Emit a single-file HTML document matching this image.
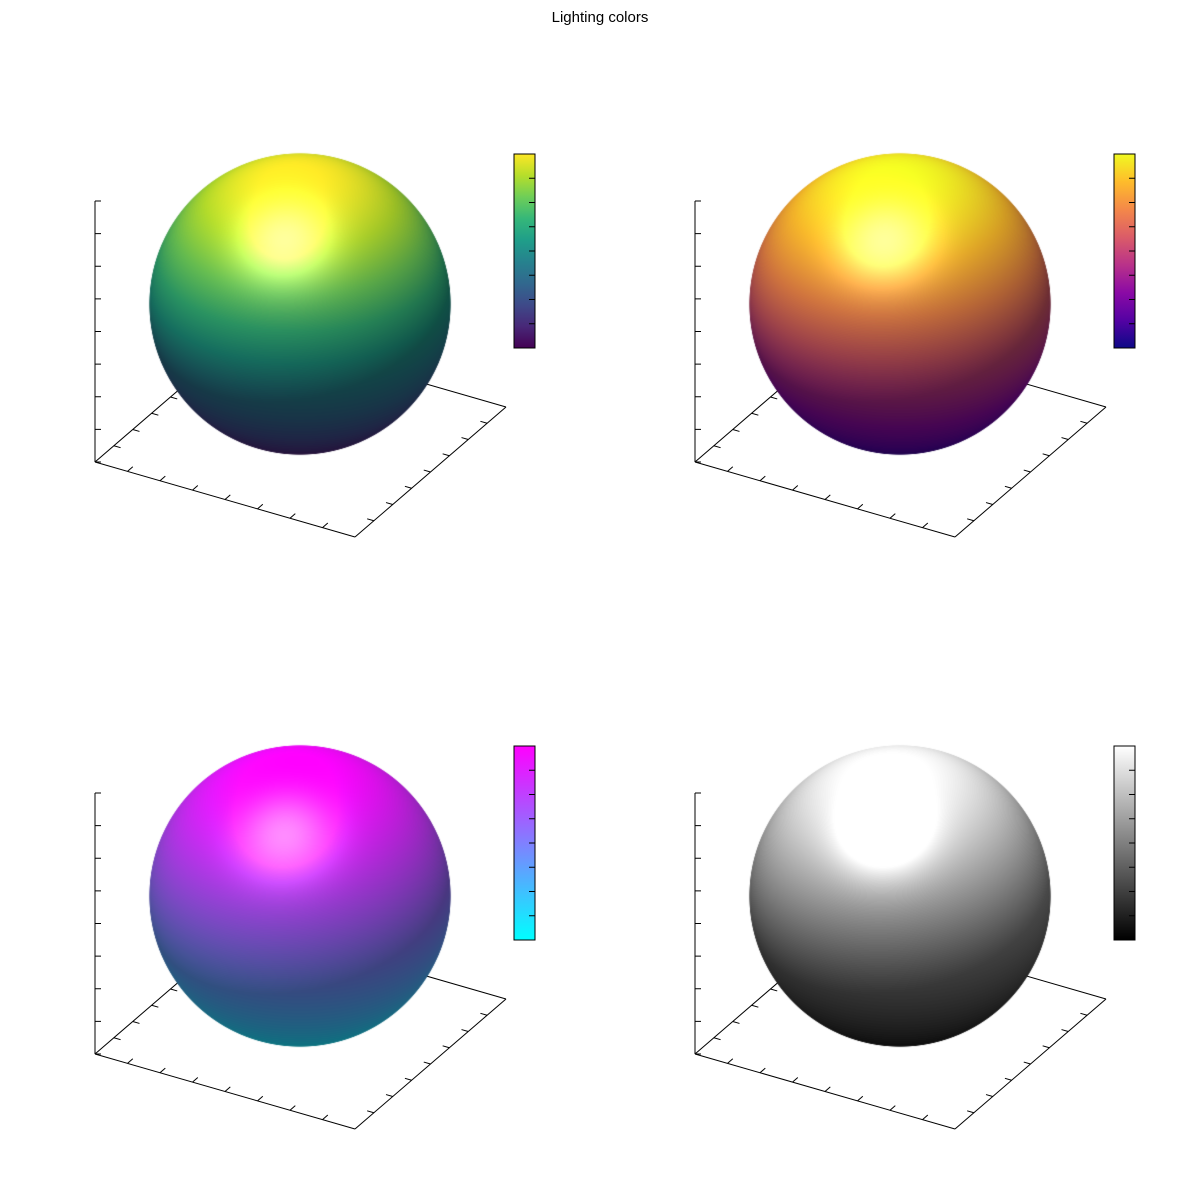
<!DOCTYPE html>
<html><head><meta charset="utf-8"><style>
html,body{margin:0;padding:0;background:#fff;}
#wrap{position:relative;width:1200px;height:1200px;overflow:hidden;font-family:"Liberation Sans",sans-serif;}
svg,canvas{position:absolute;left:0;top:0;}
</style></head><body>
<div id="wrap">
<svg id="axes" width="1200" height="1200">
<text x="600" y="22" text-anchor="middle" font-size="15" fill="#000">Lighting colors</text>
</svg>
<canvas id="cv" width="1200" height="1200"></canvas>
<svg id="cb" width="1200" height="1200"></svg>
</div>
<script>
// colormap data (position 0..1 -> rgb)
const viridisStops=[[68,1,84],[72,40,120],[62,74,137],[49,104,142],[38,130,142],[31,158,137],[53,183,121],[110,206,88],[181,222,43],[253,231,37]];
const plasmaStops=[[13,8,135],[84,2,163],[139,10,165],[185,50,137],[219,92,104],[244,136,73],[254,188,43],[240,249,33]];
const coolStops=[[0,255,255],[128,128,255],[255,0,255]];
const grayStops=[[0,0,0],[255,255,255]];
const panelMaps=[viridisStops,plasmaStops,coolStops,grayStops];
const panelNames=['viridis','plasma','cool','gray'];
const panelDx=[0,600,0,600];
const panelDy=[0,0,592,592];
const zTicks=[0,1,2,3,4,5,6,7,8];
const xyTicks=[0,1,2,3,4,5,6,7,8];
const cbTicks=[1,2,3,4,5,6,7];

function cmap(stops,t){t=Math.max(0,Math.min(1,t));const n=stops.length-1;const f=t*n;const i=Math.min(n-1,Math.floor(f));const u=f-i;
return [0,1,2].map(k=>stops[i][k]+(stops[i+1][k]-stops[i][k])*u);}

const NS='http://www.w3.org/2000/svg';
const ax=document.getElementById('axes'), cb=document.getElementById('cb');
function ln(p,x1,y1,x2,y2,name){const l=document.createElementNS(NS,'line');
l.setAttribute('x1',x1);l.setAttribute('y1',y1);l.setAttribute('x2',x2);l.setAttribute('y2',y2);
l.setAttribute('stroke','#000');l.setAttribute('stroke-width','1');


p.appendChild(l);return l;}

const ctx=document.getElementById('cv').getContext('2d');
const R=151;
const H=(()=>{const v=[-0.1,0.42,0.9];const m=Math.hypot(...v);return v.map(a=>a/m);})();
const L=(()=>{const d=H[2];const v=[2*d*H[0],2*d*H[1],2*d*H[2]-1];const m=Math.hypot(...v);return v.map(a=>a/m);})();

panelMaps.forEach((stops,p)=>{
  const dx=panelDx[p],dy=panelDy[p];
  const g=document.createElementNS(NS,'g');
  
  
  ax.appendChild(g);
  const O=[95+dx,462+dy],F=[355+dx,537+dy],B=[506+dx,407+dy],K=[246+dx,332+dy];
  ln(g,O[0],O[1],F[0],F[1],'x-axis');
  ln(g,F[0],F[1],B[0],B[1],'y-axis');
  ln(g,O[0],O[1],K[0],K[1],'y-axis-back');
  ln(g,K[0],K[1],B[0],B[1],'x-axis-back');
  ln(g,O[0],O[1],95+dx,201+dy,'z-axis');
  const uy=[(B[0]-F[0]),(B[1]-F[1])];const my=Math.hypot(...uy);
  const ux=[(F[0]-O[0]),(F[1]-O[1])];const mx=Math.hypot(...ux);
  xyTicks.slice(1,-1).forEach(i=>{
    const t=i/8;
    const x=O[0]+(F[0]-O[0])*t,y=O[1]+(F[1]-O[1])*t;
    ln(g,x,y,x+uy[0]/my*7,y+uy[1]/my*7,'x-tick');
    const x2=F[0]+(B[0]-F[0])*t,y2=F[1]+(B[1]-F[1])*t;
    ln(g,x2,y2,x2-ux[0]/mx*7,y2-ux[1]/mx*7,'y-tick');
    const x3=O[0]+(K[0]-O[0])*t,y3=O[1]+(K[1]-O[1])*t;
    ln(g,x3,y3,x3+ux[0]/mx*7,y3+ux[1]/mx*7,'y-tick-back');
  });
  zTicks.forEach(i=>{const y=462+dy-(261*i/8);ln(g,95+dx,y,101+dx,y,'z-tick');});

  const cx=300+dx,cy=304+dy;
  const img=ctx.createImageData(2*R+2,2*R+2);
  for(let j=0;j<2*R+2;j++)for(let i=0;i<2*R+2;i++){
    const nx=(i-R-0.5)/R,ny=-(j-R-0.5)/R;const r2=nx*nx+ny*ny;
    if(r2>1)continue;const nz=Math.sqrt(1-r2);
    const z=ny*0.866+nz*0.5;
    const c=cmap(stops,(z+1)/2);
    const dif=Math.max(0,nx*L[0]+ny*L[1]+nz*L[2]);
    const sp=Math.pow(Math.max(0,nx*H[0]+ny*H[1]+nz*H[2]),22);
    const s=0.5+0.55*dif;
    const k=(j*(2*R+2)+i)*4;
    for(let q=0;q<3;q++)img.data[k+q]=Math.min(255,c[q]*s+255*sp*0.45);
    const edge=Math.min(1,(1-Math.sqrt(r2))*R*1.5);
    img.data[k+3]=255*edge;
  }
  const tmp=document.createElement('canvas');tmp.width=2*R+2;tmp.height=2*R+2;
  tmp.getContext('2d').putImageData(img,0,0);
  ctx.drawImage(tmp,cx-R-1,cy-R-1);

  const cg=document.createElementNS(NS,'g');
  
  
  cb.appendChild(cg);
  const gid='grad'+p;
  const lg=document.createElementNS(NS,'linearGradient');lg.setAttribute('id',gid);
  lg.setAttribute('x1','0');lg.setAttribute('y1','1');lg.setAttribute('x2','0');lg.setAttribute('y2','0');
  stops.forEach((s,i)=>{const st=document.createElementNS(NS,'stop');st.setAttribute('offset',i/(stops.length-1));
    st.setAttribute('stop-color','rgb('+s.join(',')+')');lg.appendChild(st);});
  cg.appendChild(lg);
  const rc=document.createElementNS(NS,'rect');
  rc.setAttribute('x',514+dx);rc.setAttribute('y',154+dy);rc.setAttribute('width',21);rc.setAttribute('height',194);
  rc.setAttribute('fill','url(#'+gid+')');rc.setAttribute('stroke','#000');rc.setAttribute('stroke-width','1');
  
  
  cg.appendChild(rc);
  cbTicks.forEach(i=>{const y=348+dy-194*i/8;ln(cg,529+dx,y,535+dx,y,'colorbar-tick');});
});
</script>
</body></html>
